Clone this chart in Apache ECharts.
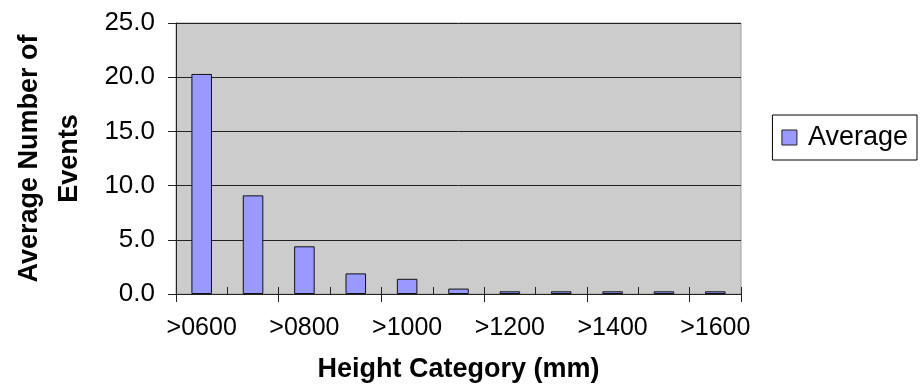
<!DOCTYPE html>
<html>
<head>
<meta charset="utf-8">
<script src="https://cdn.jsdelivr.net/npm/echarts@6/dist/echarts.min.js"></script>
<style>
html,body{margin:0;padding:0;background:#fff;}
#chart{width:922px;height:388px;}
</style>
</head>
<body>
<div id="chart"></div>
<script>
const categories = ['>0600','>0700','>0800','>0900','>1000','>1100','>1200','>1300','>1400','>1500','>1600'];
const averageValues = [20.3, 9.1, 4.4, 1.9, 1.4, 0.5, 0.25, 0.25, 0.25, 0.25, 0.25];
const seriesName = 'Average';
const yTitle = 'Average Number of\nEvents';
const xTitle = 'Height Category (mm)';

const FONT = 'Liberation Sans, Arial, sans-serif';
const chart = echarts.init(document.getElementById('chart'), null, {renderer: 'canvas'});
chart.setOption({
  animation: false,
  backgroundColor: '#ffffff',
  grid: {
    left: 176, right: 181, top: 23, bottom: 94,
    show: true, backgroundColor: '#cccccc', borderColor: '#a0a0a0', borderWidth: 1
  },
  legend: {
    data: [seriesName],
    right: 5, top: 115,
    orient: 'vertical',
    icon: 'rect',
    itemWidth: 15, itemHeight: 15,
    borderColor: '#000', borderWidth: 1,
    backgroundColor: '#fff',
    padding: [9, 9, 9, 9],
    textStyle: {fontFamily: FONT, fontSize: 27, color: '#000', padding: [0, 0, 0, 6]},
    itemStyle: {borderColor: '#222', borderWidth: 1}
  },
  xAxis: [{
    type: 'category',
    data: categories,
    position: 'bottom',
    axisLine: {lineStyle: {color: '#222', width: 1}},
    axisTick: {show: true, length: 8, lineStyle: {color: '#222'}},
    axisLabel: {interval: 1, fontFamily: FONT, fontSize: 25, color: '#000', margin: 22},
    name: xTitle,
    nameLocation: 'middle',
    nameGap: 62,
    nameTextStyle: {fontFamily: FONT, fontSize: 27, fontWeight: 'bold', color: '#000'}
  }, {
    type: 'category',
    data: categories,
    position: 'bottom',
    axisLine: {show: false},
    axisTick: {show: true, inside: true, length: 7, lineStyle: {color: '#222'}},
    axisLabel: {show: false}
  }],
  yAxis: {
    type: 'value',
    min: 0, max: 25, interval: 5,
    axisLine: {show: true, lineStyle: {color: '#222', width: 1}},
    axisTick: {show: true, length: 8, lineStyle: {color: '#222'}},
    splitLine: {show: true, lineStyle: {color: '#222', width: 1}},
    axisLabel: {fontFamily: FONT, fontSize: 26, color: '#000', margin: 21,
      formatter: v => v.toFixed(1)},
    name: yTitle,
    nameLocation: 'middle',
    nameGap: 86,
    nameRotate: 90,
    nameTextStyle: {fontFamily: FONT, fontSize: 27, fontWeight: 'bold', color: '#000', lineHeight: 40, align: 'center'}
  },
  series: [{
    name: seriesName,
    type: 'bar',
    data: averageValues,
    barWidth: '40%',
    itemStyle: {color: '#9999ff', borderColor: '#111', borderWidth: 1}
  }]
});
</script>
</body>
</html>
